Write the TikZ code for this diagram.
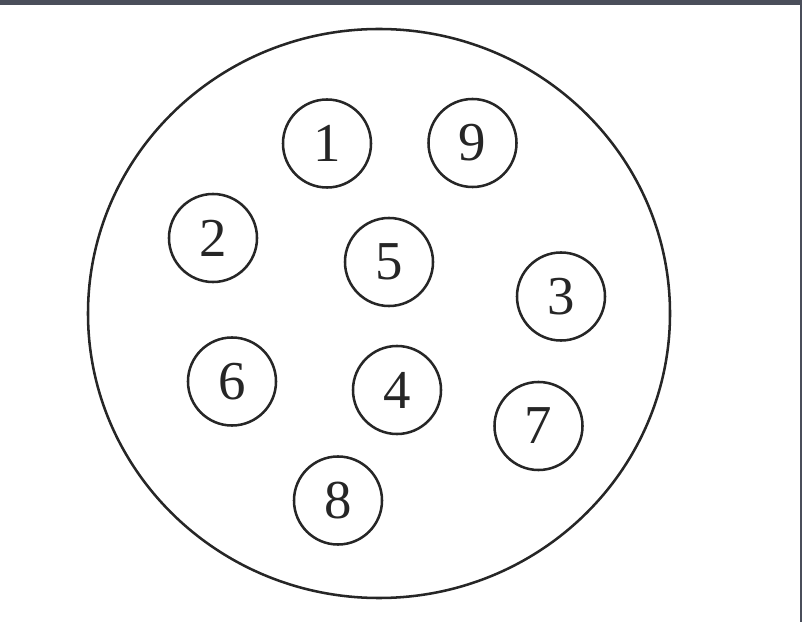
\documentclass[tikz,border=0pt]{standalone}
\usepackage{fontspec}
\setmainfont{Liberation Serif}
\definecolor{frame}{HTML}{4A4E5A}
\begin{document}
\begin{tikzpicture}[x=0.025cm,y=-0.025cm]
				\tikzset{n/.style={draw=black!85, circle, line width=1.8pt, minimum size=2.2cm, inner sep=0pt, text=black!85, font=\fontsize{39}{39}\selectfont}};
				\useasboundingbox (0,0) rectangle (802,622);
				\fill[frame] (0,0) rectangle (802,5);
				\fill[frame] (800,0) rectangle (802,622);
				\draw[black!85, line width=1.8pt] (379,313.5) ellipse [x radius=291, y radius=284.5];

				\node[n] (1) at (327,143.5) {1};
				\node[n] (9) at (472.5,143) {9};
				\node[n] (2) at (213,238) {2};
				\node[n] (5) at (389,262) {5};
				\node[n] (3) at (561,296.5) {3};
				\node[n] (6) at (232,381.5) {6};
				\node[n] (4) at (397,390) {4};
				\node[n] (7) at (538.5,426) {7};
				\node[n] (8) at (338,500.5) {8};
			\end{tikzpicture}
\end{document}
